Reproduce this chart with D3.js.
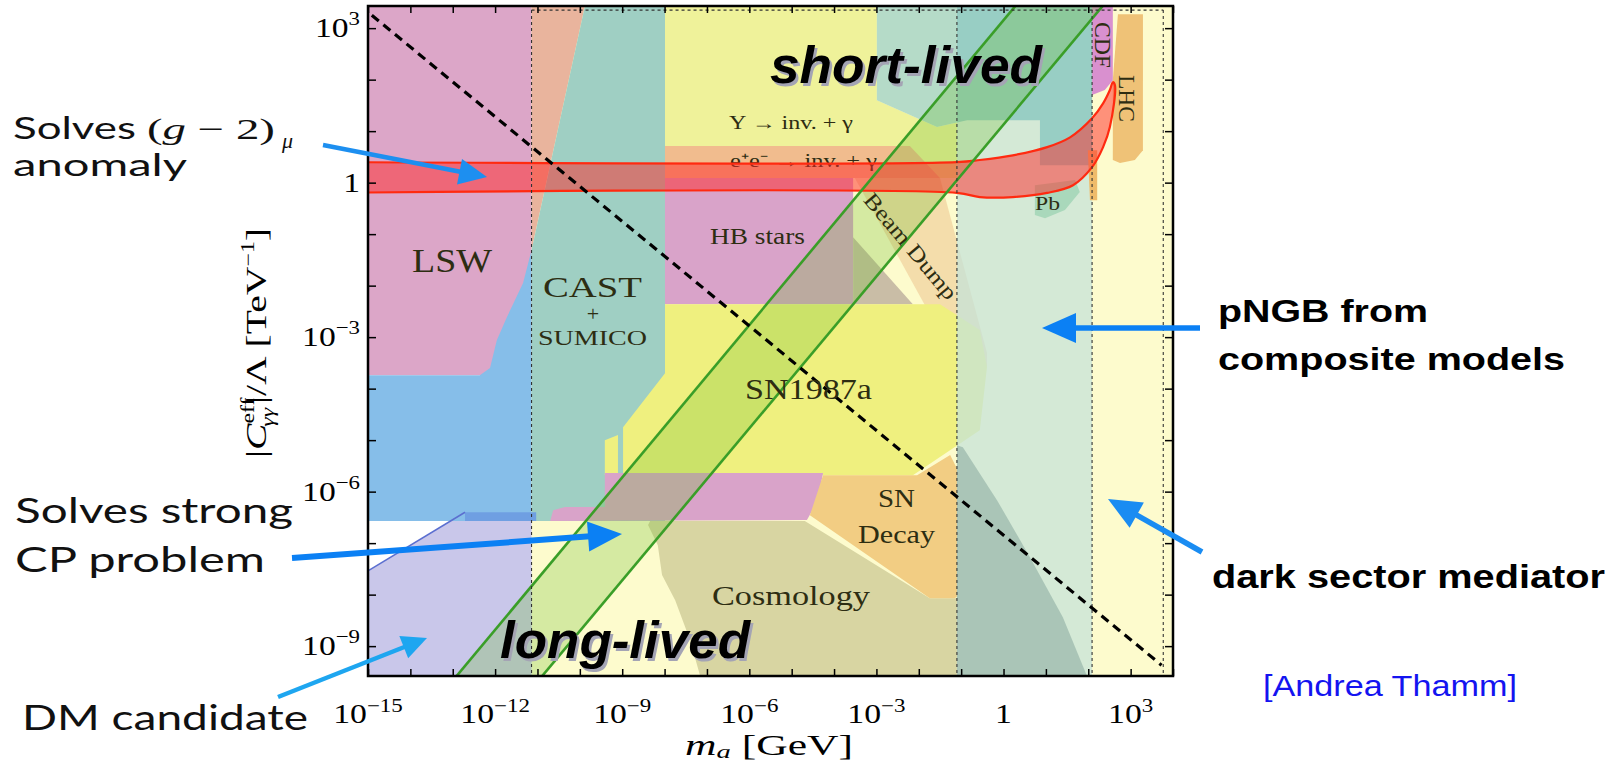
<!DOCTYPE html>
<html lang="en">
<head>
<meta charset="utf-8">
<title>ALP parameter space</title>
<script src="https://d3js.org/d3.v7.min.js"></script>
<style>
  body { margin: 0; background: #fff; }
</style>
</head>
<body>
<svg width="1622" height="764"></svg>
<script>
// every region point is [log10(m_a / GeV), log10(|C| / TeV^-1)]
var xDecades = [-15,-14,-13,-12,-11,-10,-9,-8,-7,-6,-5,-4,-3,-2,-1,0,1,2,3,4];
var yDecades = [-9,-8,-7,-6,-5,-4,-3,-2,-1,0,1,2,3];
var xLabelled = [-15,-12,-9,-6,-3,0,3];
var yLabelled = [3,0,-3,-6,-9];

var baseYellow = [[-11.14,-9.58],[4,-9.58],[4,3.43],[-11.14,3.43]];
var lswRegion = [[-15,3.43],[-11.14,3.43],[-11.14,-3.74],[-15,-3.74]];
var helioRegion = [[-15,-3.74],[-12.36,-3.74],[-12.12,-3.60],[-11.96,-3.06],[-11.72,-2.61],[-11.34,-1.95],[-11.14,-1.31],[-11.14,-6.57],[-15,-6.57]];
var lswEdge = [[-11.14,3.43],[-9.88,3.43],[-11.14,-1.31]];
var castRegion = [[-9.88,3.43],[-7.99,3.43],[-7.99,-6.57],[-11.14,-6.57],[-11.14,-1.31]];
var dmRegion = [[-15,-9.58],[-11.14,-9.58],[-11.14,-6.57],[-13.06,-6.57],[-15,-7.54]];
var haloStrip = [[-12.71,-6.40],[-11.03,-6.40],[-11.03,-6.57],[-12.71,-6.57]];
var haloEdge = [[-15,-7.54],[-12.71,-6.40]];
var upsilonRegion = [[-7.99,3.43],[-2.99,3.43],[-2.99,1.60],[-1.57,1.08],[-1.10,1.17],[-1.10,0.09],[-7.99,0.09]];
var eeRegion = [[-7.99,0.71],[-2.21,0.71],[-1.50,0.09],[-7.99,0.09]];
var hbRegion = [[-7.99,0.09],[-3.55,0.09],[-3.55,-2.36],[-7.99,-2.36]];
var hbShadow = [[-3.55,-1.06],[-2.14,-2.36],[-3.55,-2.36]];
var beamDump = [[-3.51,0.09],[-1.50,0.09],[-0.39,-3.31],[-0.39,-3.58],[-1.66,-2.67]];
var sn1987a = [[-7.99,-2.36],[-1.50,-2.36],[-0.56,-2.86],[-0.39,-3.58],[-0.56,-4.81],[-2.14,-5.68],[-8.98,-5.68],[-8.98,-4.75],[-7.99,-3.70]];
var sn1987aSpike = [[-9.41,-5.0],[-9.10,-4.9],[-9.10,-5.68],[-9.41,-5.68]];
var clusterRegion = [[-9.41,-5.64],[-4.26,-5.64],[-4.38,-6.17],[-4.64,-6.55],[-10.70,-6.57],[-10.63,-6.36],[-10.35,-6.30],[-9.41,-6.30]];
var cosmology = [[-8.34,-6.57],[-4.69,-6.57],[-1.74,-8.07],[-1.10,-8.07],[-1.10,-9.58],[-7.16,-9.58],[-7.40,-8.88],[-7.75,-8.11],[-8.06,-7.62],[-8.16,-7.04],[-8.39,-6.65]];
var snDecay = [[-4.26,-5.68],[-2.04,-5.68],[-1.26,-5.29],[-0.96,-5.78],[-0.91,-7.91],[-1.15,-8.07],[-1.74,-8.07],[-4.57,-6.46]];
var pngbBand = [[-1.10,-9.58],[2.09,-9.58],[2.09,3.43],[-1.10,3.43]];
var cosmologyHeavy = [[-1.10,-5.10],[-0.96,-5.14],[-0.15,-6.17],[0.62,-7.27],[1.40,-8.44],[1.97,-9.58],[-1.10,-9.58]];
var lepLeft = [[-2.99,3.43],[-1.10,3.43],[-1.10,1.17],[-1.57,1.08],[-2.99,1.60]];
var lepRight = [[-1.10,3.43],[2.09,3.43],[2.09,0.34],[0.86,0.34],[0.86,1.21],[-0.86,1.21],[-1.10,1.17]];
var pbRegion = [[0.74,-0.05],[1.69,0.05],[1.80,-0.18],[1.45,-0.53],[0.98,-0.69],[0.74,-0.63]];
var cdfRegion = [[2.09,3.43],[2.58,3.43],[2.58,1.99],[2.39,1.80],[2.09,1.70]];
var lhcRegion = [[2.70,3.27],[3.29,3.27],[3.29,0.63],[3.10,0.44],[2.75,0.38],[2.58,0.44],[2.58,1.99]];
var lhcLow = [[1.99,0.63],[2.21,0.63],[2.21,-0.34],[2.04,-0.34]];

var gm2Upper = [[-16,0.40],[-1.10,0.40],[-0.56,0.44],[0.22,0.53],[1.03,0.69],[1.57,0.88],[2.09,1.25],[2.35,1.54],[2.51,1.80],[2.58,1.95]];
var gm2Lower = [[2.63,1.89],[2.51,1.08],[2.35,0.69],[2.09,0.30],[1.64,-0.05],[1.03,-0.20],[0.22,-0.28],[-0.56,-0.28],[-1.10,-0.20],[-16,-0.20]];

var axionLineA = [[-13.0,-9.67],[0.30,3.45]];
var axionLineB = [[-10.98,-9.67],[2.36,3.45]];
var lifetimeLine = [[-14.91,3.25],[3.73,-9.37]];
var bandEdges = [-11.14,-1.10,2.09,3.77];
var bandTop = 3.35;

var svg = d3.select("svg");
var x = d3.scaleLog().domain([1e-15, 1e4]).range([368, 1173]);
var y = d3.scaleLog().domain([Math.pow(10, -9.58), Math.pow(10, 3.43)]).range([676, 6]);
function px(p) { return x(Math.pow(10, p[0])); }
function py(p) { return y(Math.pow(10, p[1])); }
var line = d3.line().x(px).y(py);
var smooth = d3.line().x(px).y(py).curve(d3.curveCatmullRom.alpha(0.5));

svg.append("defs").append("clipPath").attr("id", "plotclip")
  .append("rect").attr("x", 368).attr("y", 6).attr("width", 805).attr("height", 670);
var plot = svg.append("g").attr("clip-path", "url(#plotclip)");

function area(pts, fill) {
  plot.append("path").attr("d", line(pts) + "Z").attr("fill", fill);
}

area(baseYellow, "#fdfbcd");
area(lswRegion, "#dca6c8");
area(helioRegion, "#86bee9");
area(lswEdge, "#e9b49d");
area(castRegion, "#9fcfc3");
area(dmRegion, "#c9c7ea");
area(haloStrip, "#6f9fe2");
area(upsilonRegion, "#eff29a");
area(eeRegion, "#f1bc8e");
area(hbRegion, "#d9a3c9");
area(hbShadow, "#c9bda6");
area(beamDump, "#f4ddab");
area(sn1987a, "#eff07f");
area(sn1987aSpike, "#eff07f");
area(clusterRegion, "#d9a3c9");
area(cosmology, "#d8d5a2");
area(snDecay, "#f2cd83");
area(pngbBand, "rgba(196,226,218,0.72)");
area(cosmologyHeavy, "#aac5b7");
area(lepLeft, "#b5dbc8");
area(lepRight, "#98cec4");
area(pbRegion, "#a9d8bb");
area(cdfRegion, "#d990cf");
area(lhcRegion, "#efc277");
area(lhcLow, "#efbb6a");

// QCD axion band between the two green lines
plot.append("path")
  .attr("d", line(axionLineA.concat(axionLineB.slice().reverse())) + "Z")
  .attr("fill", "rgba(110,190,50,0.28)");

function txt(parent, s, x0, y0, o) {
  var t = parent.append("text").attr("x", x0).attr("y", y0).text(s)
    .attr("font-size", o.size)
    .attr("fill", o.fill || "#2d2d12")
    .attr("font-family", o.family || "'Liberation Serif', serif");
  if (o.len) t.attr("textLength", o.len).attr("lengthAdjust", "spacingAndGlyphs");
  if (o.weight) t.attr("font-weight", o.weight);
  if (o.style) t.attr("font-style", o.style);
  if (o.anchor) t.attr("text-anchor", o.anchor);
  if (o.transform) t.attr("transform", o.transform);
  return t;
}

// labels that sit under the g-2 band
txt(plot, "\u03a5 \u2192 inv. + \u03b3", 729, 129, {size: 18, len: 124});
txt(plot, "e\u207ae\u207b \u2192 inv. + \u03b3", 730, 167, {size: 18, len: 147});

// (g-2)_mu band
plot.append("path")
  .attr("d", smooth(gm2Upper.concat(gm2Lower)) + "Z")
  .attr("fill", "rgba(255,40,40,0.5)")
  .attr("stroke", "#ff2a10").attr("stroke-width", 2.2);

[axionLineA, axionLineB].forEach(function(l) {
  plot.append("path").attr("d", line(l)).attr("fill", "none")
    .attr("stroke", "#3a9e28").attr("stroke-width", 2.6);
});
plot.append("path").attr("d", line(haloEdge)).attr("fill", "none")
  .attr("stroke", "#5b6fd0").attr("stroke-width", 1.5);

bandEdges.forEach(function(e) {
  plot.append("line")
    .attr("x1", x(Math.pow(10, e))).attr("x2", x(Math.pow(10, e)))
    .attr("y1", y(Math.pow(10, bandTop))).attr("y2", 676)
    .attr("stroke", "#333").attr("stroke-width", 1.1).attr("stroke-dasharray", "3,3");
});
plot.append("line")
  .attr("x1", x(Math.pow(10, bandEdges[0]))).attr("x2", x(Math.pow(10, bandEdges[3])))
  .attr("y1", y(Math.pow(10, bandTop))).attr("y2", y(Math.pow(10, bandTop)))
  .attr("stroke", "#333").attr("stroke-width", 1.1).attr("stroke-dasharray", "3,3");

plot.append("path").attr("d", line(lifetimeLine)).attr("fill", "none")
  .attr("stroke", "#000").attr("stroke-width", 3.2).attr("stroke-dasharray", "9,6");

// region names
txt(plot, "LSW", 412, 272, {size: 33, len: 80});
txt(plot, "CAST", 543, 297, {size: 30, len: 99});
txt(plot, "+", 593, 321, {size: 22, anchor: "middle"});
txt(plot, "SUMICO", 538, 345, {size: 20, len: 109});
txt(plot, "HB stars", 710, 244, {size: 24, len: 95});
txt(plot, "SN1987a", 745, 399, {size: 29, len: 127});
txt(plot, "SN", 878, 507, {size: 25, len: 37});
txt(plot, "Decay", 858, 543, {size: 25, len: 77});
txt(plot, "Cosmology", 712, 605, {size: 28, len: 158});
txt(plot, "Pb", 1035, 210, {size: 18, len: 25});
txt(plot, "Beam Dump", 0, 0, {size: 22, len: 132, anchor: "middle", transform: "translate(905,251) rotate(50)"});
txt(plot, "CDF", 0, 0, {size: 24, len: 46, transform: "translate(1095,22) rotate(90)"});
txt(plot, "LHC", 0, 0, {size: 24, len: 47, transform: "translate(1119,75) rotate(90)"});

// lifetime labels with soft shadow
[["short-lived", 770, 83, 272], ["long-lived", 500, 658, 250]].forEach(function(d) {
  txt(svg, d[0], d[1] + 2.5, d[2] + 2.5, {size: 52, len: d[3], weight: "bold", style: "italic",
    family: "'Liberation Sans', Arial, sans-serif", fill: "#a4a4b4"});
  txt(svg, d[0], d[1], d[2], {size: 52, len: d[3], weight: "bold", style: "italic",
    family: "'Liberation Sans', Arial, sans-serif", fill: "#000"});
});

// axes: inward ticks on all four sides
var xt = xDecades.map(function(e) { return Math.pow(10, e); });
var yt = yDecades.map(function(e) { return Math.pow(10, e); });
function styleAxis(g) {
  g.select(".domain").remove();
  g.selectAll("line").attr("stroke", "#000").attr("stroke-width", 1.5);
}
svg.append("g").attr("transform", "translate(0,676)")
  .call(d3.axisBottom(x).tickValues(xt).tickFormat("").tickSizeInner(-7).tickSizeOuter(0)).call(styleAxis);
svg.append("g").attr("transform", "translate(0,6)")
  .call(d3.axisTop(x).tickValues(xt).tickFormat("").tickSizeInner(-7).tickSizeOuter(0)).call(styleAxis);
svg.append("g").attr("transform", "translate(368,0)")
  .call(d3.axisLeft(y).tickValues(yt).tickFormat("").tickSizeInner(-8).tickSizeOuter(0)).call(styleAxis);
svg.append("g").attr("transform", "translate(1173,0)")
  .call(d3.axisRight(y).tickValues(yt).tickFormat("").tickSizeInner(-8).tickSizeOuter(0)).call(styleAxis);
svg.append("rect").attr("x", 368).attr("y", 6).attr("width", 805).attr("height", 670)
  .attr("fill", "none").attr("stroke", "#000").attr("stroke-width", 2.5);

function powText(g, e, size) {
  var t = g.append("text").attr("font-size", size).attr("fill", "#000")
    .attr("font-family", "'Liberation Serif', serif");
  if (e === 0) { t.text("1"); return t; }
  t.append("tspan").text("10");
  t.append("tspan").attr("font-size", size * 0.68).attr("dy", -size * 0.42)
    .text(e < 0 ? "\u2212" + (-e) : String(e));
  return t;
}
xLabelled.forEach(function(e) {
  var g = svg.append("g").attr("transform",
    "translate(" + x(Math.pow(10, e)) + ",723) scale(1.25,1)");
  powText(g, e, 27).attr("text-anchor", "middle");
});
yLabelled.forEach(function(e) {
  var g = svg.append("g").attr("transform",
    "translate(360," + (y(Math.pow(10, e)) + 9) + ") scale(1.2,1)");
  powText(g, e, 28).attr("text-anchor", "end");
});

// axis titles
var xTitle = svg.append("text").attr("x", 769).attr("y", 755).attr("text-anchor", "middle")
  .attr("font-size", 29).attr("font-family", "'Liberation Serif', serif")
  .attr("textLength", 168).attr("lengthAdjust", "spacingAndGlyphs");
xTitle.append("tspan").attr("font-style", "italic").text("m");
xTitle.append("tspan").attr("font-style", "italic").attr("font-size", 19).attr("dy", 3).text("a");
xTitle.append("tspan").attr("dy", -3).text(" [GeV]");

var yTitle = svg.append("text").attr("transform", "translate(266,343) rotate(-90)")
  .attr("text-anchor", "middle").attr("font-size", 30)
  .attr("font-family", "'Liberation Serif', serif")
  .attr("textLength", 230).attr("lengthAdjust", "spacingAndGlyphs");
yTitle.append("tspan").text("|");
yTitle.append("tspan").attr("font-style", "italic").text("C");
yTitle.append("tspan").attr("font-size", 18).attr("dy", -12).text("eff");
yTitle.append("tspan").attr("font-size", 18).attr("font-style", "italic").attr("dx", -22).attr("dy", 20).text("\u03b3\u03b3");
yTitle.append("tspan").attr("dx", 3).attr("dy", -8).text("|/\u039b [TeV");
yTitle.append("tspan").attr("font-size", 18).attr("dy", -12).text("\u22121");
yTitle.append("tspan").attr("dy", 12).text("]");

// annotations on the left
var sans = "Lato, 'Open Sans', sans-serif";
txt(svg, "Solves", 13, 139, {size: 30, len: 123, family: sans, fill: "#111"});
var gm = txt(svg, "", 147, 139, {size: 30, len: 128, fill: "#111"});
gm.append("tspan").text("(");
gm.append("tspan").attr("font-style", "italic").text("g");
gm.append("tspan").text(" \u2212 2)");
txt(svg, "\u03bc", 282, 148, {size: 22, style: "italic", fill: "#111"});
txt(svg, "anomaly", 13, 176, {size: 30, len: 174, family: sans, fill: "#111"});
txt(svg, "Solves strong", 15, 523, {size: 35, len: 278, family: sans, fill: "#111"});
txt(svg, "CP problem", 15, 572, {size: 35, len: 250, family: sans, fill: "#111"});
txt(svg, "DM candidate", 22, 730, {size: 35, len: 286, family: sans, fill: "#111"});

// annotations on the right
var bold = "'Liberation Sans', Arial, sans-serif";
txt(svg, "pNGB from", 1218, 322, {size: 32, len: 210, family: bold, weight: "bold", fill: "#000"});
txt(svg, "composite models", 1218, 370, {size: 32, len: 347, family: bold, weight: "bold", fill: "#000"});
txt(svg, "dark sector mediator", 1212, 588, {size: 34, len: 393, family: bold, weight: "bold", fill: "#000"});
txt(svg, "[Andrea Thamm]", 1263, 696, {size: 30, len: 254, family: bold, fill: "#1414f0"});

function arrow(x1, y1, x2, y2, w, headLen, headHalf, color) {
  var a = Math.atan2(y2 - y1, x2 - x1);
  var bx = x2 - headLen * Math.cos(a), by = y2 - headLen * Math.sin(a);
  var nx = -Math.sin(a), ny = Math.cos(a);
  svg.append("line").attr("x1", x1).attr("y1", y1).attr("x2", bx + Math.cos(a) * 2).attr("y2", by + Math.sin(a) * 2)
    .attr("stroke", color).attr("stroke-width", w);
  svg.append("path")
    .attr("d", "M" + x2 + "," + y2 + "L" + (bx + nx * headHalf) + "," + (by + ny * headHalf) +
      "L" + (bx - nx * headHalf) + "," + (by - ny * headHalf) + "Z")
    .attr("fill", color);
}
arrow(323, 145, 487, 177, 4.5, 28, 13, "#1d8ff0");
arrow(292, 558, 622, 534, 6, 34, 15, "#0b80f4");
arrow(278, 697, 427, 638, 4.5, 25, 12, "#1ea6f0");
arrow(1200, 328, 1042, 328, 5.5, 34, 15, "#0b80f4");
arrow(1202, 552, 1108, 499, 5.5, 33, 14.5, "#1a8cf2");
</script>
</body>
</html>
